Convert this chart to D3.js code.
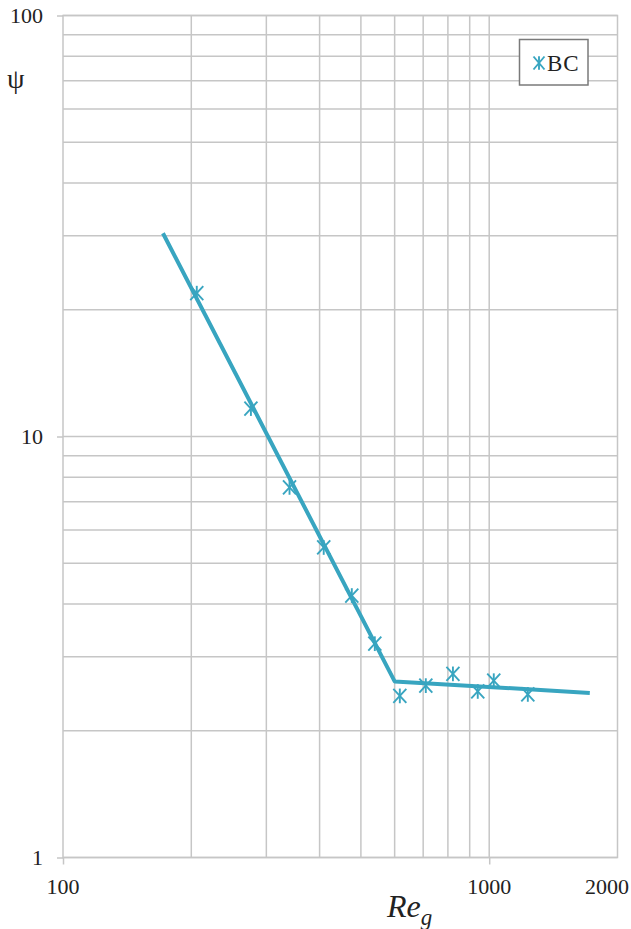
<!DOCTYPE html>
<html>
<head>
<meta charset="utf-8">
<script src="https://cdn.jsdelivr.net/npm/d3@7"></script>
<style>
  html, body { margin: 0; padding: 0; background: #fff; }
  svg { display: block; }
</style>
</head>
<body>
<svg id="chart" width="631" height="929"></svg>
<script>
// Measured points (BC series)
const reValues  = [206, 276, 340, 409, 476, 539, 617, 710, 822, 940, 1025, 1232];
const psiValues = [21.9, 11.65, 7.57, 5.45, 4.19, 3.22, 2.42, 2.56, 2.73, 2.48, 2.63, 2.44];

// Fitted two-segment trend line
const fitRe  = [171.6, 600, 1722];
const fitPsi = [30.4, 2.62, 2.46];

// Axis ticks
const xMinorTicks = [200, 300, 400, 500, 600, 700, 800, 900, 1000];
const xLabelTicks = [100, 1000, 2000];
const yMajorTicks = [1, 10, 100];
const yMinorTicks = [2, 3, 4, 5, 6, 7, 8, 9, 20, 30, 40, 50, 60, 70, 80, 90];

const seriesName = "BC";
const color = "#38A5C0";
const gridColor = "#c6c6c6";
const serif = '"Liberation Serif", "Times New Roman", Times, serif';
const textColor = "#222";

const svg = d3.select("#chart");
const plotL = 63, plotR = 617.5, plotT = 15.5, plotB = 857.5;

const x = d3.scaleLog().domain([100, 2000]).range([plotL, plotR]);
const y = d3.scaleLog().domain([1, 100]).range([plotB, plotT]);

// Horizontal gridlines
const gridG = svg.append("g");
gridG.selectAll("line.h")
  .data(yMinorTicks.concat(yMajorTicks))
  .join("line")
  .attr("class", "h")
  .attr("x1", plotL).attr("x2", plotR)
  .attr("y1", d => y(d)).attr("y2", d => y(d))
  .attr("stroke", gridColor).attr("stroke-width", 1.5);

// Vertical gridlines
gridG.selectAll("line.v")
  .data(xMinorTicks)
  .join("line")
  .attr("class", "v")
  .attr("x1", d => x(d)).attr("x2", d => x(d))
  .attr("y1", plotT).attr("y2", plotB)
  .attr("stroke", gridColor).attr("stroke-width", 1.5);

// Plot frame
gridG.append("rect")
  .attr("x", plotL).attr("y", plotT)
  .attr("width", plotR - plotL).attr("height", plotB - plotT)
  .attr("fill", "none").attr("stroke", gridColor).attr("stroke-width", 1.5);

// Y axis: major ticks and labels
const yAxis = d3.axisLeft(y).tickValues(yMajorTicks).tickFormat(d3.format("d")).tickSize(6).tickPadding(14);
const yG = svg.append("g").attr("transform", `translate(${plotL},0)`).call(yAxis);
yG.select(".domain").remove();
yG.selectAll(".tick line").attr("stroke", gridColor).attr("stroke-width", 1.5);
yG.selectAll(".tick text")
  .style("font-family", serif).style("font-size", "22px").attr("fill", textColor)
  .attr("dy", "0.34em");

// X axis: ticks at the decades
const xAxis = d3.axisBottom(x).tickValues([100, 1000]).tickFormat("").tickSize(7);
const xG = svg.append("g").attr("transform", `translate(0,${plotB})`).call(xAxis);
xG.select(".domain").remove();
xG.selectAll(".tick line").attr("stroke", gridColor).attr("stroke-width", 1.5);

// X tick labels (the last one is kept inside the page)
svg.append("g").selectAll("text")
  .data(xLabelTicks)
  .join("text")
  .attr("x", d => d === 2000 ? 629 : x(d))
  .attr("y", 894)
  .attr("text-anchor", d => d === 2000 ? "end" : "middle")
  .style("font-family", serif).style("font-size", "22px")
  .attr("fill", textColor)
  .text(d => d);

// Axis titles
svg.append("text")
  .attr("x", 7).attr("y", 88)
  .style("font-family", serif).style("font-size", "28px")
  .attr("fill", textColor)
  .text("ψ");

const xt = svg.append("text")
  .attr("x", 387).attr("y", 917)
  .style("font-family", serif).style("font-size", "32px").style("font-style", "italic")
  .attr("fill", textColor);
xt.append("tspan").text("Re");
xt.append("tspan").style("font-size", "23px").attr("dy", 8).text("g");

// Trend line
const line = d3.line().x(d => x(d[0])).y(d => y(d[1]));
svg.append("path")
  .datum(fitRe.map((r, i) => [r, fitPsi[i]]))
  .attr("d", line)
  .attr("fill", "none")
  .attr("stroke", color)
  .attr("stroke-width", 4)
  .attr("stroke-linejoin", "round");

// Star (asterisk) markers
function star(g, cx, cy, sx, sy) {
  const pts = [[-sx, -sy, sx, sy], [-sx, sy, sx, -sy], [0, -sy * 1.05, 0, sy * 1.05]];
  g.selectAll(null).data(pts).join("line")
    .attr("x1", p => cx + p[0]).attr("y1", p => cy + p[1])
    .attr("x2", p => cx + p[2]).attr("y2", p => cy + p[3])
    .attr("stroke", color).attr("stroke-width", 1.9);
}
const mk = svg.append("g");
reValues.forEach((r, i) => star(mk.append("g"), x(r), y(psiValues[i]), 6.5, 7));

// Legend
const lg = svg.append("g");
lg.append("rect")
  .attr("x", 519.5).attr("y", 39.5).attr("width", 68.5).attr("height", 45.5)
  .attr("fill", "#fff").attr("stroke", "#7a7a7a").attr("stroke-width", 1.5);
star(lg.append("g"), 539, 63, 5.5, 6.5);
lg.append("text").attr("x", 547).attr("y", 71)
  .style("font-family", serif).style("font-size", "23px").style("letter-spacing", "1px")
  .attr("fill", textColor).text(seriesName);
</script>
</body>
</html>
